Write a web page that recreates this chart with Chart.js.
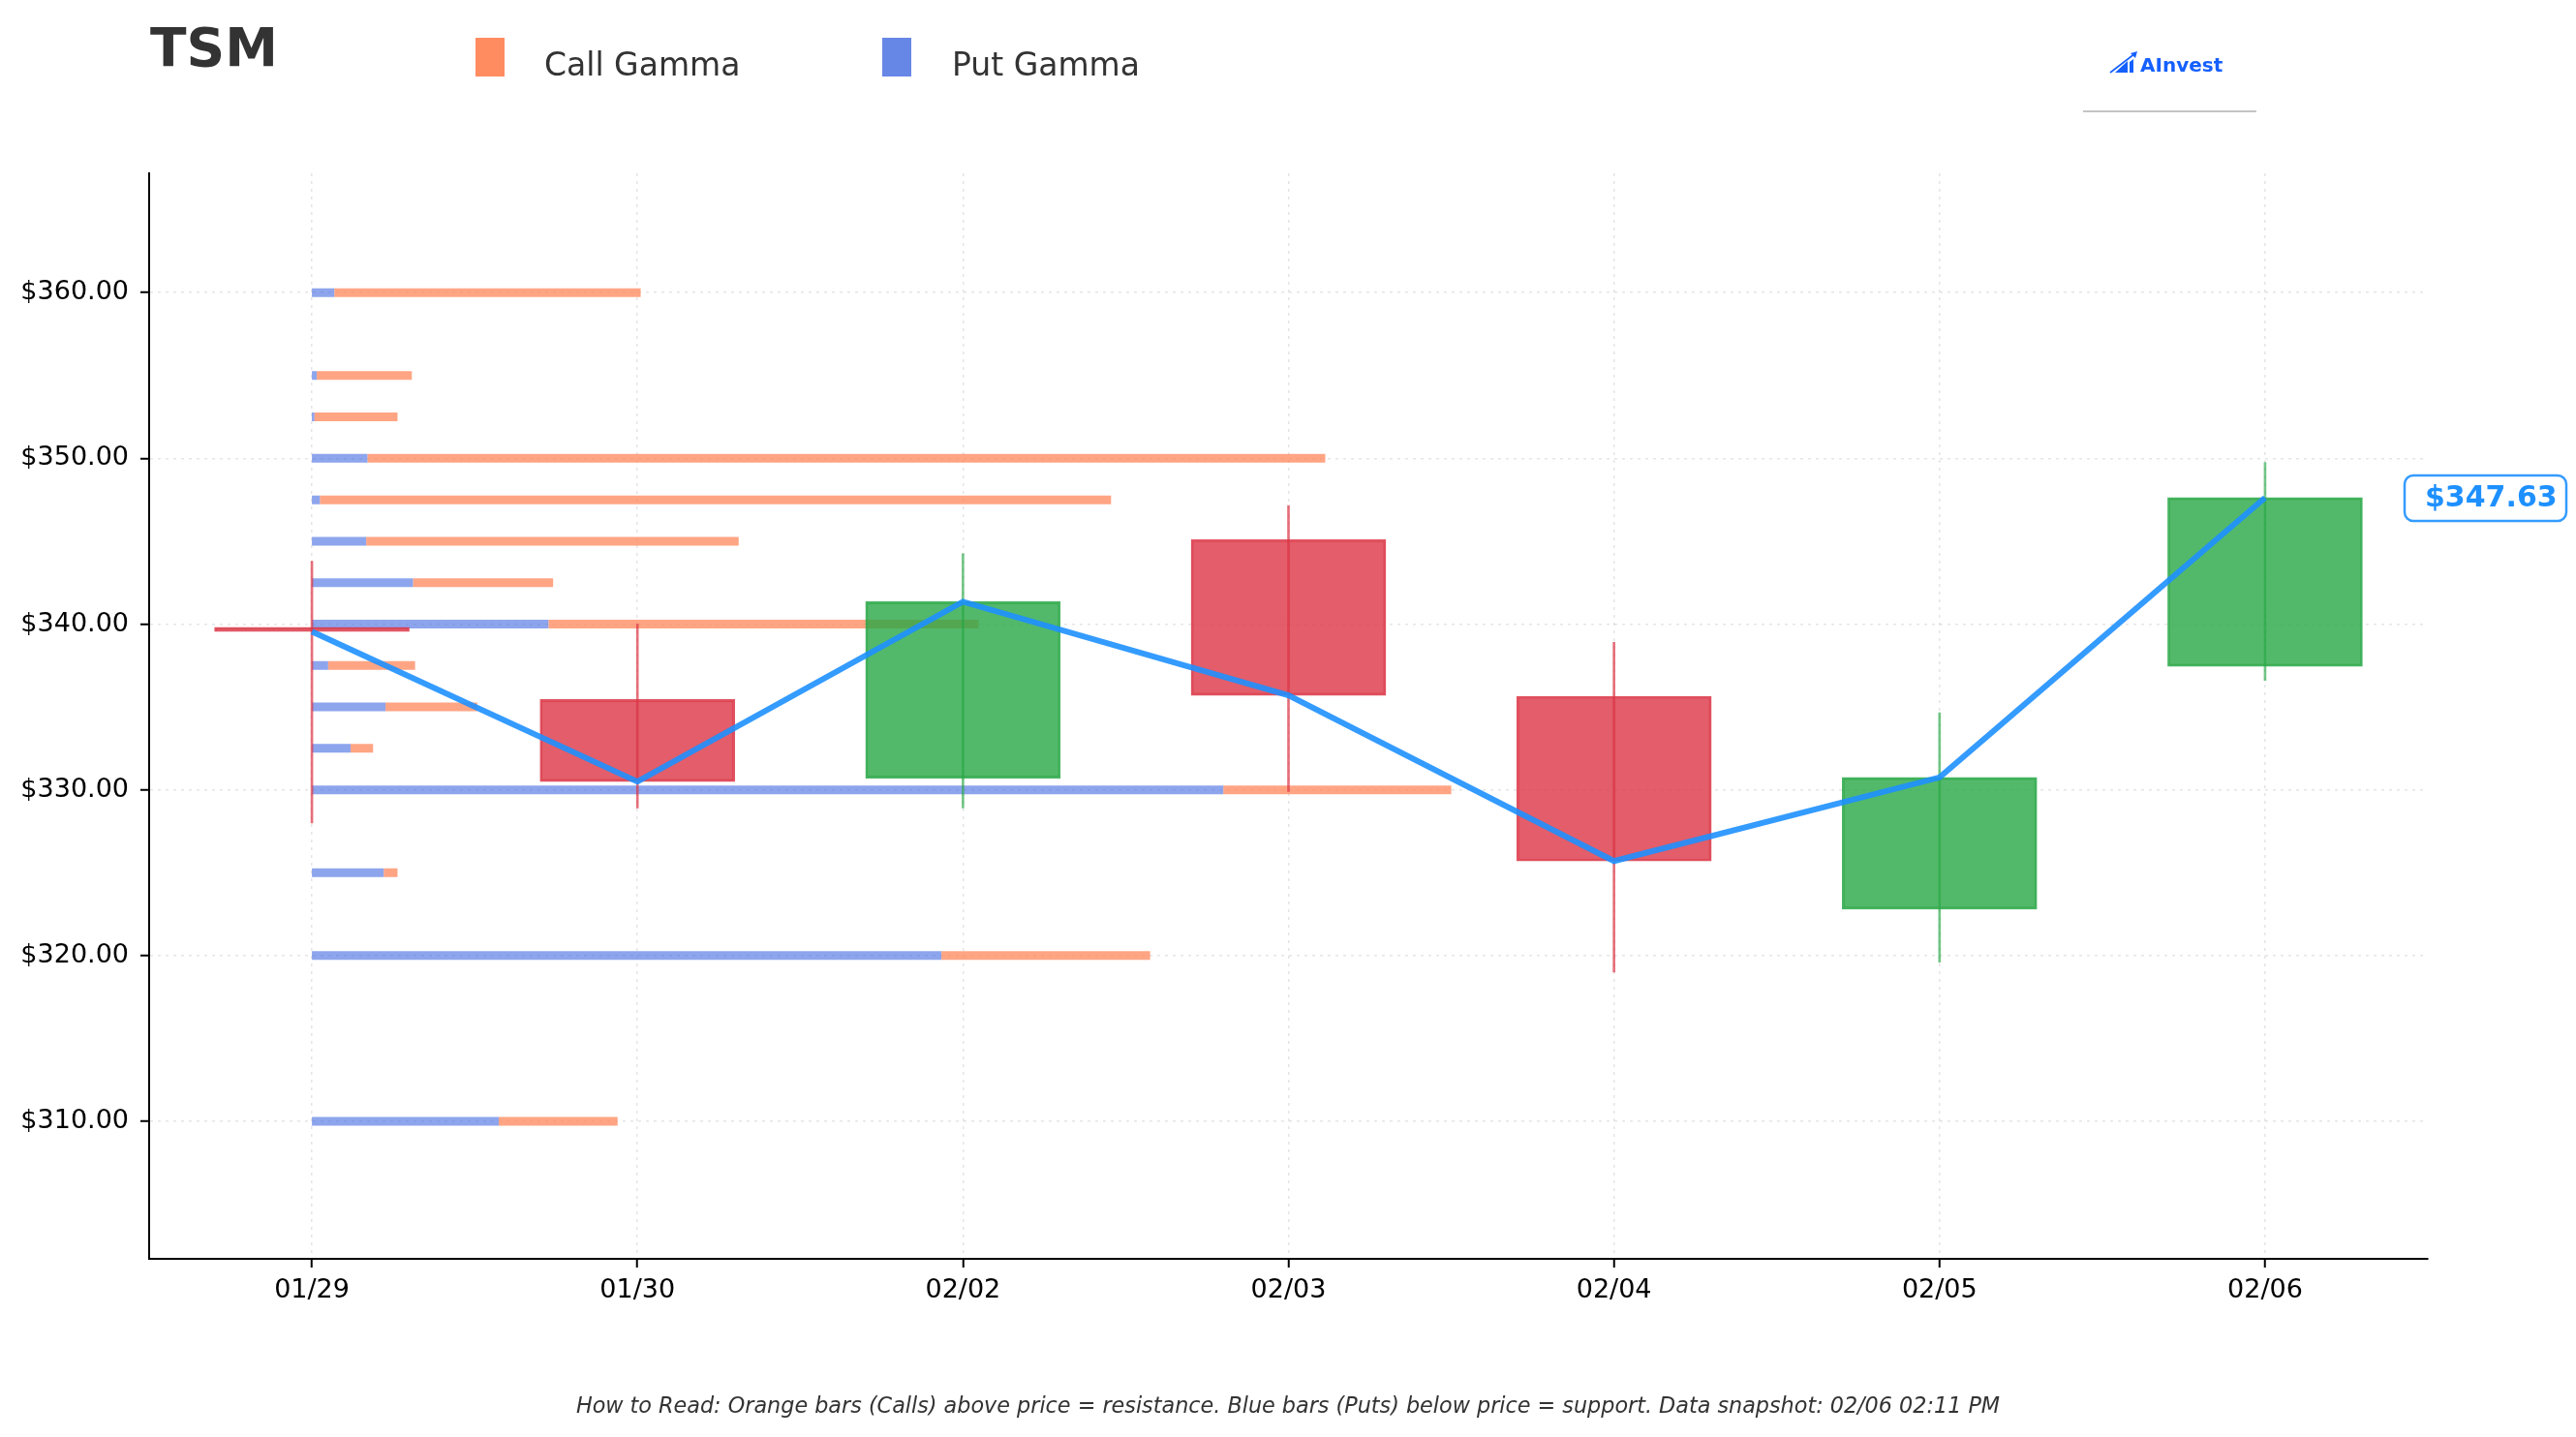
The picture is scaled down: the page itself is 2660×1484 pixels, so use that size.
<!DOCTYPE html>
<html>
<head>
<meta charset="utf-8">
<script src="https://cdn.jsdelivr.net/npm/chart.js@4.4.1/dist/chart.umd.min.js"></script>
<style>
  html, body { margin: 0; padding: 0; background: #fff; }
  #wrap { position: relative; width: 2660px; height: 1484px; overflow: hidden; font-family: 'DejaVu Sans', sans-serif; }
  #chart { position: absolute; left: 0; top: 0; }
  .txt { position: absolute; white-space: nowrap; line-height: 1; }
  .sw { position: absolute; width: 30px; height: 40px; }
</style>
</head>
<body>
<div id="wrap">
  <canvas id="chart" width="2660" height="1484"></canvas>
  <div class="txt" style="left:155px; top:22px; font-size:55px; font-weight:bold; color:#333;">TSM</div>
  <div class="sw" style="left:491px; top:39px; background:rgba(255,127,80,0.9);"></div>
  <div class="txt" style="left:562px; top:50px; font-size:33px; color:#333;">Call Gamma</div>
  <div class="sw" style="left:911px; top:39px; background:rgba(65,105,225,0.8);"></div>
  <div class="txt" style="left:983px; top:50px; font-size:33px; color:#333;">Put Gamma</div>
  <svg style="position:absolute; left:2176px; top:50px;" width="36" height="28" viewBox="0 0 36 28">
    <line x1="3" y1="25" x2="29" y2="5" stroke="#1560ff" stroke-width="1.6"/>
    <polygon points="31,3 24,5 29,10" fill="#1560ff"/>
    <polygon points="8,25 21,25 21,13" fill="#1560ff"/>
    <polygon points="23,14 27,11 27,25 23,25" fill="#1560ff"/>
  </svg>
  <div class="txt" style="left:2210px; top:57px; font-size:20px; font-weight:bold; color:#1560ff;">AInvest</div>
  <div style="position:absolute; left:2151px; top:114px; width:179px; height:2px; background:#c4c4c4;"></div>
  <div class="txt" style="left:0; width:2660px; text-align:center; top:1440px; font-size:22.3px; font-style:italic; color:#333;">How to Read: Orange bars (Calls) above price = resistance. Blue bars (Puts) below price = support. Data snapshot: 02/06 02:11 PM</div>
</div>
<script>
const dates = ['01/29', '01/30', '02/02', '02/03', '02/04', '02/05', '02/06'];
const opens = [339.80, 335.45, 330.70, 345.10, 335.65, 322.80, 337.45];
const closes = [339.55, 330.50, 341.35, 335.70, 325.70, 330.75, 347.63];
const highs = [343.80, 340.00, 344.25, 347.15, 338.90, 334.65, 349.75];
const lows = [328.00, 328.90, 328.90, 329.90, 319.00, 319.60, 336.60];

// gamma exposure per strike (puts drawn first, calls stacked after)
const strikes = [360, 355, 352.5, 350, 347.5, 345, 342.5, 340, 337.5, 335, 332.5, 330, 325, 320, 310];
const putGamma = [0.069, 0.015, 0.008, 0.171, 0.025, 0.167, 0.311, 0.727, 0.050, 0.226, 0.119, 2.800, 0.221, 1.934, 0.574];
const callGamma = [0.941, 0.292, 0.255, 2.942, 2.430, 1.144, 0.430, 1.321, 0.267, 0.282, 0.069, 0.700, 0.042, 0.641, 0.365];

const yTicks = [310, 320, 330, 340, 350, 360];

function gammaSegments(useCalls) {
  const pts = [];
  strikes.forEach((s, i) => {
    const start = useCalls ? putGamma[i] : 0;
    const len = useCalls ? callGamma[i] : putGamma[i];
    pts.push({ x: start, y: s });
    pts.push({ x: start + len, y: s });
    pts.push({ x: start + len, y: null });
  });
  return pts;
}

const upColor = 'rgba(40,167,69,0.8)';
const downColor = 'rgba(220,53,69,0.8)';
const isUp = closes.map((c, i) => c >= opens[i]);

const priceLabel = {
  id: 'priceLabel',
  afterDatasetsDraw(chart) {
    const ctx = chart.ctx;
    const last = closes[closes.length - 1];
    const y = chart.scales.y.getPixelForValue(last);
    ctx.save();
    ctx.beginPath();
    ctx.roundRect(2483, y - 23, 167, 47, 9);
    ctx.fillStyle = '#fff';
    ctx.fill();
    ctx.lineWidth = 2.5;
    ctx.strokeStyle = 'rgba(30,144,255,0.9)';
    ctx.stroke();
    ctx.fillStyle = '#1e90ff';
    ctx.font = 'bold 30px "DejaVu Sans"';
    ctx.textBaseline = 'middle';
    ctx.textAlign = 'left';
    ctx.fillText('$' + last.toFixed(2), 2504, y + 1);
    ctx.restore();
  }
};

Chart.defaults.font.family = 'DejaVu Sans';
Chart.defaults.font.size = 27;
Chart.defaults.color = '#000';

new Chart(document.getElementById('chart').getContext('2d'), {
  type: 'line',
  data: {
    datasets: [
      {
        type: 'line',
        label: 'Price',
        data: closes.map((c, i) => ({ x: i, y: c })),
        borderColor: 'rgba(30,144,255,0.9)',
        borderWidth: 6,
        borderJoinStyle: 'miter',
        pointRadius: 0,
        fill: false,
        order: 0
      },
      {
        type: 'bar',
        label: 'Wick',
        data: dates.map((d, i) => ({ x: i, y: [lows[i], highs[i]] })),
        backgroundColor: isUp.map(u => u ? 'rgba(40,167,69,0.65)' : 'rgba(220,53,69,0.7)'),
        borderWidth: 0,
        barThickness: 2,
        grouped: false,
        order: 1
      },
      {
        type: 'bar',
        label: 'Body',
        data: dates.map((d, i) => ({ x: i, y: [opens[i], closes[i]] })),
        backgroundColor: isUp.map(u => u ? upColor : downColor),
        borderColor: isUp.map(u => u ? 'rgba(40,167,69,0.85)' : 'rgba(220,53,69,0.85)'),
        borderWidth: 2,
        borderSkipped: false,
        barThickness: 201,
        grouped: false,
        order: 2
      },
      {
        type: 'line',
        label: 'Call Gamma',
        data: gammaSegments(true),
        borderColor: 'rgba(255,127,80,0.7)',
        borderWidth: 9,
        borderCapStyle: 'butt',
        pointRadius: 0,
        spanGaps: false,
        fill: false,
        order: 3
      },
      {
        type: 'line',
        label: 'Put Gamma',
        data: gammaSegments(false),
        borderColor: 'rgba(65,105,225,0.6)',
        borderWidth: 9,
        borderCapStyle: 'butt',
        pointRadius: 0,
        spanGaps: false,
        fill: false,
        order: 4
      }
    ]
  },
  options: {
    responsive: false,
    animation: false,
    events: [],
    layout: { padding: { top: 179, right: 153, left: 0, bottom: 0 } },
    plugins: {
      legend: { display: false },
      tooltip: { enabled: false },
      title: { display: false }
    },
    scales: {
      x: {
        type: 'linear',
        min: -0.5,
        max: 6.5,
        offset: false,
        afterBuildTicks: scale => { scale.ticks = dates.map((d, i) => ({ value: i })); },
        afterFit: scale => { scale.height = 184; },
        ticks: {
          autoSkip: false,
          maxRotation: 0,
          padding: 8,
          color: '#000',
          callback: v => dates[v]
        },
        grid: {
          offset: false,
          color: 'rgba(0,0,0,0.1)',
          lineWidth: 1.5,
          tickLength: 9,
          tickColor: '#000',
          tickWidth: 2
        },
        border: { display: true, color: '#000', width: 2, dash: [3, 5] }
      },
      y: {
        type: 'linear',
        min: 301.7,
        max: 367.2,
        beginAtZero: false,
        afterBuildTicks: scale => { scale.ticks = yTicks.map(v => ({ value: v })); },
        afterFit: scale => { scale.width = 154; },
        ticks: {
          padding: 12,
          color: '#000',
          callback: v => '$' + v.toFixed(2)
        },
        grid: {
          color: 'rgba(0,0,0,0.1)',
          lineWidth: 1.5,
          tickLength: 9,
          tickColor: '#000',
          tickWidth: 2
        },
        border: { display: true, color: '#000', width: 2, dash: [3, 5] }
      }
    }
  },
  plugins: [priceLabel]
});
</script>
</body>
</html>
